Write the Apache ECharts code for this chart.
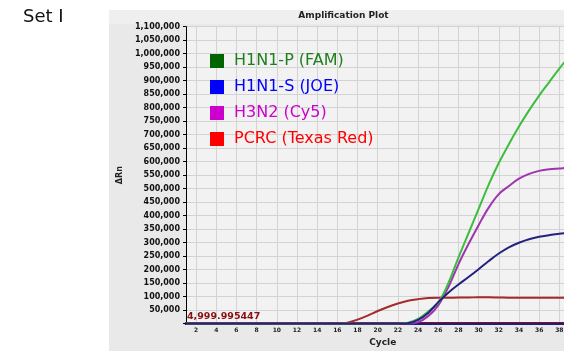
<!DOCTYPE html>
<html>
<head>
<meta charset="utf-8">
<script src="https://cdn.jsdelivr.net/npm/echarts@6/dist/echarts.min.js"></script>
<style>
  html, body { margin: 0; padding: 0; background: #ffffff; }
  #chart { width: 564px; height: 351px; }
</style>
</head>
<body>
<div id="chart"></div>
<script>
// Amplification curves, one value per PCR cycle (ΔRn)
const cycles = Array.from({ length: 40 }, (_, i) => String(i + 1));

const pcrcValues = [0, 0, 0, 0, 0, 0, 0, 0, 0, 0, 0, 0, 0, 0, 0, 0,
  4000, 15000, 30000, 47000, 62000, 75000, 85000, 91000, 95000, 96000,
  96000, 97000, 97000, 98000, 98000, 97000, 96000, 96000, 96000, 96000,
  96000, 96000, 96000, 96000];

const h3n2Values = [0, 0, 0, 0, 0, 0, 0, 0, 0, 0, 0, 0, 0, 0, 0, 0, 0, 0, 0, 0, 0, 0, 0,
  6000, 28000, 68000, 135000, 220000, 295000, 365000, 430000, 480000,
  510000, 537000, 555000, 566000, 572000, 575000, 578000, 580000];

const h1n1pValues = [0, 0, 0, 0, 0, 0, 0, 0, 0, 0, 0, 0, 0, 0, 0, 0, 0, 0, 0, 0, 0, 0,
  4000, 18000, 45000, 78000, 150000, 245000, 335000, 425000, 515000, 595000,
  665000, 730000, 790000, 845000, 895000, 945000, 990000, 1030000];

const h1n1sValues = [0, 0, 0, 0, 0, 0, 0, 0, 0, 0, 0, 0, 0, 0, 0, 0, 0, 0, 0, 0, 0, 0,
  2000, 14000, 40000, 80000, 115000, 145000, 173000, 202000, 232000, 260000,
  283000, 300000, 313000, 322000, 328000, 333000, 336000, 338000];

const threshold = 4999.995447;
const thresholdText = '4,999.995447';

const legendNames = ['H1N1-P (FAM)', 'H1N1-S (JOE)', 'H3N2 (Cy5)', 'PCRC (Texas Red)'];
const legendSwatch = ['#006400', '#0000ff', '#cc00cc', '#ff0000'];
const legendTextColor = ['#1f7f1f', '#0000ff', '#cc00cc', '#ff0000'];

const yMax = 1100000;
const yStep = 50000;

const fmt = v => v.toString().replace(/\B(?=(\d{3})+(?!\d))/g, ',');

const chart = echarts.init(document.getElementById('chart'), null, { renderer: 'canvas' });

const lineSeries = (name, data, color, z) => ({
  name, type: 'line', data, smooth: 0.35, symbol: 'none', z,
  lineStyle: { color, width: 2 }, itemStyle: { color }
});

chart.setOption({
  animation: false,
  backgroundColor: '#ffffff',
  graphic: [
    { type: 'rect', z: -10, shape: { x: 109, y: 10, width: 460, height: 345 },
      style: { fill: '#e9e9e9' } },
    { type: 'rect', z: -9, shape: { x: 109, y: 10, width: 460, height: 14 },
      style: { fill: '#efefef' } },
    { type: 'text', left: 23, top: 8,
      style: { text: 'Set I', font: '18px "DejaVu Sans"', fill: '#111111' } },
    { type: 'text', x: 343.5, y: 16,
      style: { text: 'Amplification Plot', font: 'bold 9px "DejaVu Sans"', fill: '#222222',
               textAlign: 'center', textVerticalAlign: 'middle' } }
  ],
  grid: { left: 186, top: 26.7, width: 393.5, bottom: 27.3,
          outerBoundsMode: 'none', containLabel: false,
          show: true, backgroundColor: '#f2f2f2', borderWidth: 0 },
  legend: {
    orient: 'vertical', left: 205, top: 48,
    icon: 'rect', itemWidth: 14, itemHeight: 14, itemGap: 10,
    textStyle: { fontFamily: 'DejaVu Sans', fontSize: 16, padding: [0, 0, 0, 5] },
    data: legendNames.map((n, i) => ({
      name: n, itemStyle: { color: legendSwatch[i] }, textStyle: { color: legendTextColor[i] }
    }))
  },
  xAxis: {
    type: 'category', data: cycles, boundaryGap: false,
    name: 'Cycle', nameLocation: 'middle', nameGap: 13,
    nameTextStyle: { fontFamily: 'DejaVu Sans', fontWeight: 'bold', fontSize: 9, color: '#222' },
    axisLine: { lineStyle: { color: '#1c1c86', width: 3 } },
    axisTick: { show: false },
    axisLabel: {
      interval: (i, v) => Number(v) % 2 === 0,
      margin: 4, fontFamily: 'DejaVu Sans', fontWeight: 'bold', fontSize: 6, color: '#222'
    },
    splitLine: {
      show: true, interval: (i, v) => Number(v) % 2 === 0,
      lineStyle: { color: '#d3d3d3', width: 1 }
    }
  },
  yAxis: {
    type: 'value', min: 0, max: yMax, interval: yStep,
    name: 'ΔRn', nameLocation: 'middle', nameGap: 62, nameRotate: 90,
    nameTextStyle: { fontFamily: 'DejaVu Sans', fontWeight: 'bold', fontSize: 8, color: '#222' },
    axisLine: { show: true, lineStyle: { color: '#000', width: 1 } },
    axisTick: { show: true, length: 3, lineStyle: { color: '#000' } },
    axisLabel: {
      formatter: v => (v === 0 ? '' : fmt(v)), margin: 6,
      fontFamily: 'DejaVu Sans', fontWeight: 'bold', fontSize: 8, color: '#111'
    },
    splitLine: { show: true, lineStyle: { color: '#d3d3d3', width: 1 } }
  },
  series: [
    Object.assign(lineSeries('PCRC (Texas Red)', pcrcValues, '#a52a2a', 2), {
      markLine: {
        silent: true, symbol: 'none', z: 1,
        lineStyle: { color: '#8b1010', width: 1, type: 'solid' },
        label: {
          position: 'insideStartTop', formatter: thresholdText, distance: [1, 1],
          color: '#8b1010', fontFamily: 'DejaVu Sans', fontWeight: 'bold', fontSize: 9.5
        },
        data: [{ yAxis: threshold }]
      }
    }),
    lineSeries('H3N2 (Cy5)', h3n2Values, '#a033b0', 3),
    lineSeries('H1N1-P (FAM)', h1n1pValues, '#3dbd3d', 4),
    lineSeries('H1N1-S (JOE)', h1n1sValues, '#22227f', 5)
  ]
});
</script>
</body>
</html>
